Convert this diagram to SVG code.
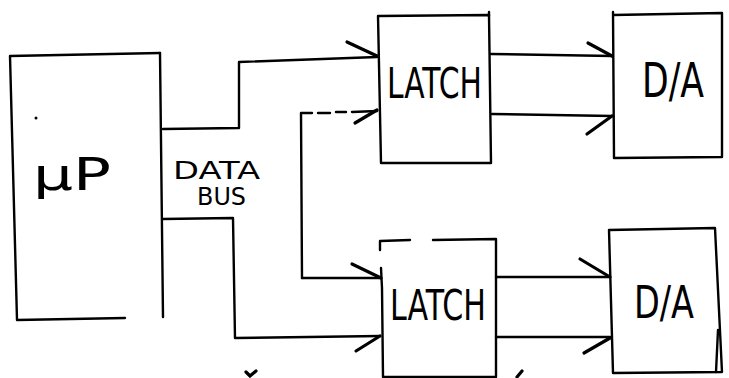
<svg xmlns="http://www.w3.org/2000/svg" width="729" height="378" viewBox="0 0 729 378">
<style>
.ln{fill:none;stroke:#000;stroke-width:2.4;stroke-linecap:round;stroke-linejoin:round}
.ar{fill:none;stroke:#000;stroke-width:3.2;stroke-linecap:round}
.hw{font-family:"DejaVu Sans","Liberation Sans",sans-serif;fill:#000;font-weight:normal}
</style>
<rect width="729" height="378" fill="#fff"/>
<g id="up">
<path class="ln" d="M160,53 L10,56 L17,320 L125,318"/>
<path class="ln" d="M160,53 L163,317"/>
<circle cx="36" cy="118" r="1.5" fill="#000"/>
<text class="hw" x="33" y="190" font-size="44" textLength="78" lengthAdjust="spacingAndGlyphs">µP</text>
</g>
<g id="latch1">
<path class="ln" d="M378,16 L489,15 L491,163 L381,163 Z"/>
<path class="ln" d="M489,12 L489,16"/>
<text class="hw" x="387" y="98" font-size="42" textLength="95" lengthAdjust="spacingAndGlyphs">LATCH</text>
</g>
<g id="latch2">
<path class="ln" d="M380,241 L410,240 M433,240 L496,239 L496,377 L383,377 L382,288 M380,241 L380,250 M381,268 L382,288"/>
<text class="hw" x="390" y="320" font-size="42" textLength="96" lengthAdjust="spacingAndGlyphs">LATCH</text>
</g>
<g id="da1">
<path class="ln" d="M613,12 L614,158 L722,157 L722,13 L613,15"/>
<text class="hw" x="642" y="97" font-size="48" textLength="62" lengthAdjust="spacingAndGlyphs">D/A</text>
</g>
<g id="da2">
<path class="ln" d="M609,230 L715,228 L722,372 L613,373 Z"/>
<path class="ln" d="M718,330 L716,372"/>
<text class="hw" x="634" y="318" font-size="44" textLength="60" lengthAdjust="spacingAndGlyphs">D/A</text>
</g>
<g id="bus-label">
<text class="hw" x="173" y="179" font-size="24" textLength="87" lengthAdjust="spacingAndGlyphs">DATA</text>
<text class="hw" x="197" y="205" font-size="24" textLength="49" lengthAdjust="spacingAndGlyphs">BUS</text>
</g>
<g id="connectors">
<path class="ln" d="M163,129 L239,128 L239,62 L377,57"/>
<path class="ar" d="M347,42 L377,56"/>
<path class="ln" d="M163,219 L233,218 L235,338 L380,336"/>
<path class="ar" d="M356,351 L380,336"/>
<path class="ln" d="M302,278 L301,113 L312,113"/>
<path class="ln" d="M318,113 L330,113 M336,112 L346,112 M352,112 L377,111"/>
<path class="ln" d="M302,278 L381,278"/>
<path class="ar" d="M355,123 L377,110"/>
<path class="ar" d="M352,264 L381,278"/>
<path class="ln" d="M491,54 L612,56"/>
<path class="ar" d="M588,43 L612,56"/>
<path class="ln" d="M492,114 L612,116"/>
<path class="ar" d="M587,134 L612,116"/>
<path class="ln" d="M496,277 L610,277"/>
<path class="ar" d="M580,259 L610,277"/>
<path class="ln" d="M496,337 L610,337"/>
<path class="ar" d="M584,353 L610,338"/>
</g>
<path class="ar" d="M246,372 L250,376 L256,371" stroke-width="3"/>
<path class="ar" d="M517,377 L522,371" stroke-width="4"/>
</svg>
